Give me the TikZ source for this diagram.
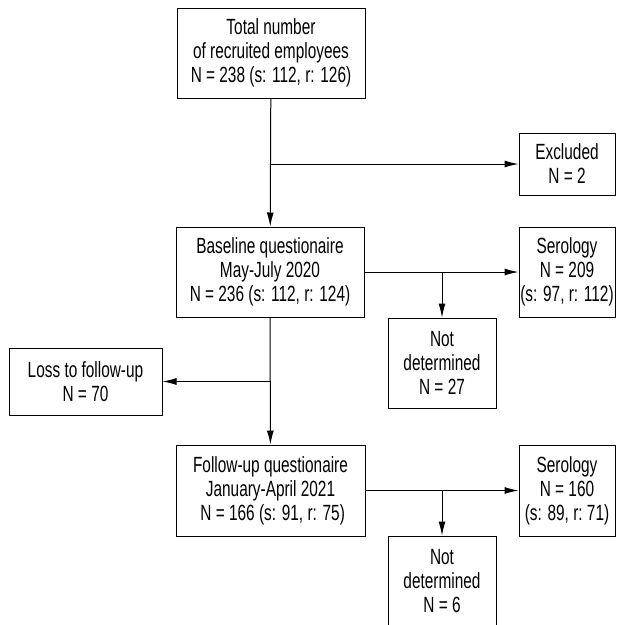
\documentclass[tikz,border=0pt]{standalone}
\usepackage{fontspec}
\setmainfont{Liberation Sans}[FakeStretch=0.7]
\usetikzlibrary{arrows.meta}

\begin{document}
\begin{tikzpicture}[x=1pt,y=-1pt,
    box/.style={draw,line width=1pt,align=center,inner sep=1pt,
      font=\fontsize{22}{24}\selectfont},
    arr/.style={line width=1pt,-{Latex[length=14pt,width=7pt]}}]
      \useasboundingbox (0,0) rectangle (617,625);

      \node[box,minimum width=188,minimum height=90] (total) at (271,53)
        {Total number\\ of recruited employees\\N = 238 (s: 112, r: 126)};
      \node[box,minimum width=96,minimum height=62] (excl) at (567,164)
        {Excluded\\N = 2};

      \node[box,minimum width=188,minimum height=90] (base) at (270,272)
        {Baseline questionaire\\May-July 2020\\N = 236 (s: 112, r: 124)};
      \node[box,minimum width=96,minimum height=90] (sero1) at (567,272)
        {Serology\\N = 209\\(s: 97, r: 112)};
      \node[box,minimum width=108,minimum height=90] (nd1) at (442,363)
        {Not\\determined\\N = 27};

      \node[box,minimum width=153,minimum height=67] (loss) at (85.5,381.5)
        {Loss to follow-up\\N = 70};

      \node[box,minimum width=189,minimum height=91] (follow) at (270.5,490.5)
        {Follow-up questionaire\\January-April 2021\\\ N = 166 (s: 91, r: 75)};
      \node[box,minimum width=96,minimum height=91] (sero2) at (567,490.5)
        {Serology\\N = 160\\(s: 89, r:\ 71)};
      \node[box,minimum width=108,minimum height=90] (nd2) at (442,581)
        {Not\\determined\\N = 6};

      \draw[arr] (total) -- (base);
      \draw[arr] (total |- excl) -- (excl);

      \draw[arr] (base) -- (sero1);
      \draw[arr] (nd1 |- base) -- (nd1);

      \draw[arr] (base) -- (follow);
      \draw[arr] (base |- loss) -- (loss);

      \draw[arr] (follow) -- (sero2);
      \draw[arr] (nd2 |- follow) -- (nd2);
    \end{tikzpicture}
\end{document}
